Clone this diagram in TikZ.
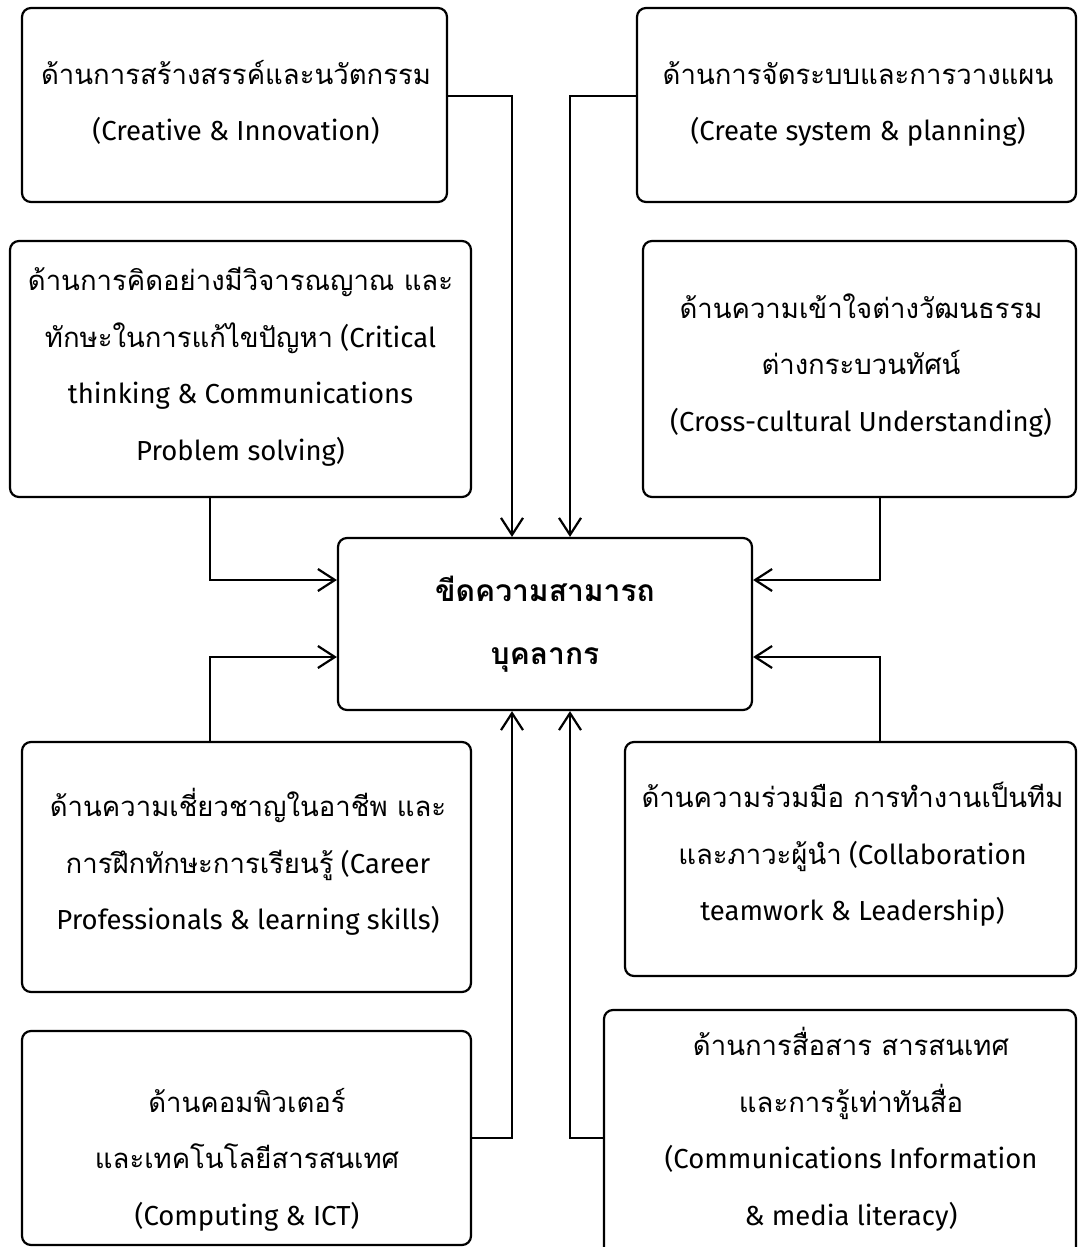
\documentclass[tikz,border=0pt]{standalone}
\usepackage{fontspec}
\setmainfont{Fira Sans}
\newfontfamily\thf[Script=Thai,Scale=1.0]{Loma}
\newfontfamily\thfb[Script=Thai]{Loma}
\usetikzlibrary{arrows.meta}
\begin{document}
\begin{tikzpicture}[x=1pt,y=-1pt,
  box/.style={draw, line width=2.2pt, rounded corners=9pt, inner sep=0pt},
  txt/.style={align=center, inner sep=0pt, font=\fontsize{27.5}{56.5}\selectfont},
  ctxt/.style={align=center, inner sep=0pt, font=\fontsize{30}{63}\selectfont\thfb\bfseries},
  arr/.style={line width=2.2pt, -{Straight Barb[length=17pt,width=22pt]}}]
\useasboundingbox (0,0) rectangle (1078,1247);
% boxes
\node[box, minimum width=425pt, minimum height=194pt] (b1) at (234.5,105) {};
\node[box, minimum width=439pt, minimum height=194pt] (b2) at (856.5,105) {};
\node[box, minimum width=461pt, minimum height=256pt] (b3) at (240.5,369) {};
\node[box, minimum width=433pt, minimum height=256pt] (b4) at (859.5,369) {};
\node[box, minimum width=414pt, minimum height=172pt] (c) at (545,624) {};
\node[box, minimum width=449pt, minimum height=250pt] (b5) at (246.5,867) {};
\node[box, minimum width=451pt, minimum height=234pt] (b6) at (850.5,859) {};
\node[box, minimum width=449pt, minimum height=214pt] (b7) at (246.5,1138) {};
\node[box, minimum width=472pt, minimum height=250pt] (b8) at (840,1135) {};
% texts
\node[txt] (t1) at (236,101) {\strut{\thf ด้านการสร้างสรรค์และนวัตกรรม}\\\strut (Creative \& Innovation)};
\node[txt] (t2) at (858,101) {\strut{\thf ด้านการจัดระบบและการวางแผน}\\\strut (Create system \& planning)};
\node[txt] (t3) at (240.5,364) {\strut{\thf ด้านการคิดอย่างมีวิจารณญาณ และ}\\\strut{\thf ทักษะในการแก้ไขปัญหา} (Critical\\\strut thinking \& Communications\\\strut Problem solving)};
\node[txt] (t4) at (861,363.5) {\strut{\thf ด้านความเข้าใจต่างวัฒนธรรม}\\\strut{\thf ต่างกระบวนทัศน์}\\\strut (Cross-cultural Understanding)};
\node[ctxt] (tc) at (545,620) {\strut ขีดความสามารถ\\\strut บุคลากร};
\node[txt] (t5) at (248,862) {\strut{\thf ด้านความเชี่ยวชาญในอาชีพ และ}\\\strut{\thf การฝึกทักษะการเรียนรู้} (Career\\\strut Professionals \& learning skills)};
\node[txt] (t6) at (852.5,853) {\strut{\thf ด้านความร่วมมือ การทำงานเป็นทีม}\\\strut{\thf และภาวะผู้นำ} (Collaboration\\\strut teamwork \& Leadership)};
\node[txt] (t7) at (247,1157.5) {\strut{\thf ด้านคอมพิวเตอร์}\\\strut{\thf และเทคโนโลยีสารสนเทศ}\\\strut (Computing \& ICT)};
\node[txt] (t8) at (851,1129) {\strut{\thf ด้านการสื่อสาร สารสนเทศ}\\\strut{\thf และการรู้เท่าทันสื่อ}\\\strut (Communications Information\\\strut \& media literacy)};
% connectors
\draw[arr] ([yshift=9pt]b1.east) -| ([xshift=-33pt]c.north);
\draw[arr] ([yshift=9pt]b2.west) -| ([xshift=25pt]c.north);
\draw[arr] ([xshift=-30.5pt]b3.south) |- ([yshift=44pt]c.west);
\draw[arr] ([xshift=20.5pt]b4.south) |- ([yshift=44pt]c.east);
\draw[arr] ([xshift=-36.5pt]b5.north) |- ([yshift=-33pt]c.west);
\draw[arr] ([xshift=29.5pt]b6.north) |- ([yshift=-33pt]c.east);
\draw[arr] (b7.east) -| ([xshift=-33pt]c.south);
\draw[arr] ([yshift=-3pt]b8.west) -| ([xshift=25pt]c.south);
\end{tikzpicture}
\end{document}
